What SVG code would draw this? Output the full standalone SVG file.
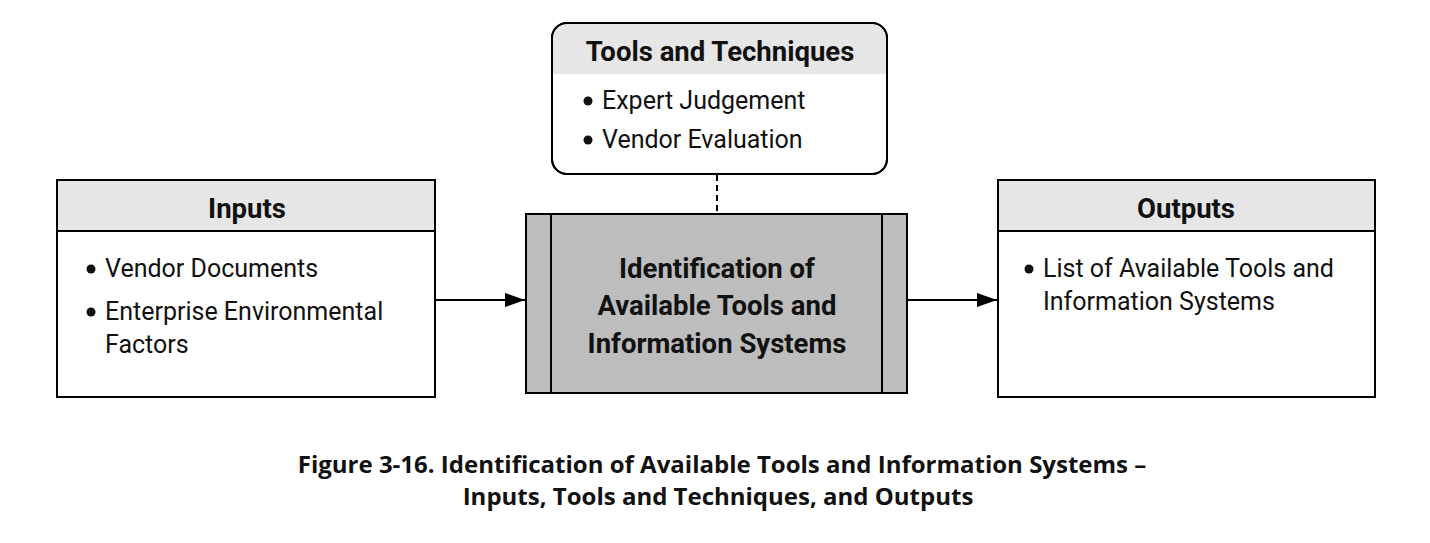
<svg xmlns="http://www.w3.org/2000/svg" width="1430" height="543" viewBox="0 0 1430 543">
<style>
.box{fill:#fff;stroke:#000;stroke-width:2}
.hdr{fill:#e6e6e6}
.t{font-family:"Liberation Sans Narrow","Roboto","Liberation Sans",sans-serif;font-size:25px;fill:#111}
.h{font-weight:bold;font-size:27.5px;text-anchor:middle}
.cap{font-family:"Open Sans","Noto Sans",sans-serif;font-weight:bold;font-size:24px;text-anchor:middle;fill:#111}
.line{stroke:#000;stroke-width:2;fill:none}
</style>
<defs>
<marker id="ar" markerWidth="20" markerHeight="14" refX="20" refY="7" orient="auto" markerUnits="userSpaceOnUse"><path d="M0,0 L20,7 L0,14 z" fill="#000"/></marker>
</defs>
<rect width="1430" height="543" fill="#fff"/>
<g id="connectors">
<line class="line" x1="436" y1="300" x2="525" y2="300" marker-end="url(#ar)"/>
<line class="line" x1="908" y1="300" x2="997" y2="300" marker-end="url(#ar)"/>
<line class="line" x1="717" y1="175" x2="717" y2="214" stroke-dasharray="6,4"/>
</g>
<g id="tools">
<rect class="box" x="552" y="23" width="335" height="151" rx="15"/>
<path class="hdr" d="M567,24 H872 A14,14 0 0 1 886,38 V74 H553 V38 A14,14 0 0 1 567,24 Z"/>
<rect x="552" y="23" width="335" height="151" rx="15" fill="none" stroke="#000" stroke-width="2"/>
<text class="t h" x="720" y="61">Tools and Techniques</text>
<circle cx="588" cy="101" r="4.5" fill="#111"/><text class="t" x="602" y="109">Expert Judgement</text>
<circle cx="588" cy="140" r="4.5" fill="#111"/><text class="t" x="602" y="148">Vendor Evaluation</text>
</g>
<g id="inputs">
<rect class="box" x="57" y="180" width="378" height="217"/>
<rect class="hdr" x="58" y="181" width="376" height="50"/>
<line class="line" x1="57" y1="231" x2="435" y2="231"/>
<text class="t h" x="247" y="218">Inputs</text>
<circle cx="91" cy="269" r="4.5" fill="#111"/><text class="t" x="105" y="277">Vendor Documents</text>
<circle cx="91" cy="312" r="4.5" fill="#111"/><text class="t" x="105" y="320">Enterprise Environmental</text>
<text class="t" x="105" y="353">Factors</text>
</g>
<g id="process">
<rect x="526" y="214" width="381" height="179" fill="#bdbdbd" stroke="#000" stroke-width="2"/>
<line class="line" x1="551" y1="214" x2="551" y2="393"/>
<line class="line" x1="882" y1="214" x2="882" y2="393"/>
<text class="t h" x="717" y="278" font-size="30">Identification of</text>
<text class="t h" x="717" y="315" font-size="30">Available Tools and</text>
<text class="t h" x="717" y="353" font-size="30">Information Systems</text>
</g>
<g id="outputs">
<rect class="box" x="998" y="180" width="377" height="217"/>
<rect class="hdr" x="999" y="181" width="375" height="50"/>
<line class="line" x1="998" y1="231" x2="1375" y2="231"/>
<text class="t h" x="1186" y="218">Outputs</text>
<circle cx="1029" cy="269" r="4.5" fill="#111"/><text class="t" x="1043" y="277">List of Available Tools and</text>
<text class="t" x="1043" y="310">Information Systems</text>
</g>
<g id="caption">
<text class="cap" x="722" y="473">Figure 3-16. Identification of Available Tools and Information Systems –</text>
<text class="cap" x="718" y="505">Inputs, Tools and Techniques, and Outputs</text>
</g>
</svg>
